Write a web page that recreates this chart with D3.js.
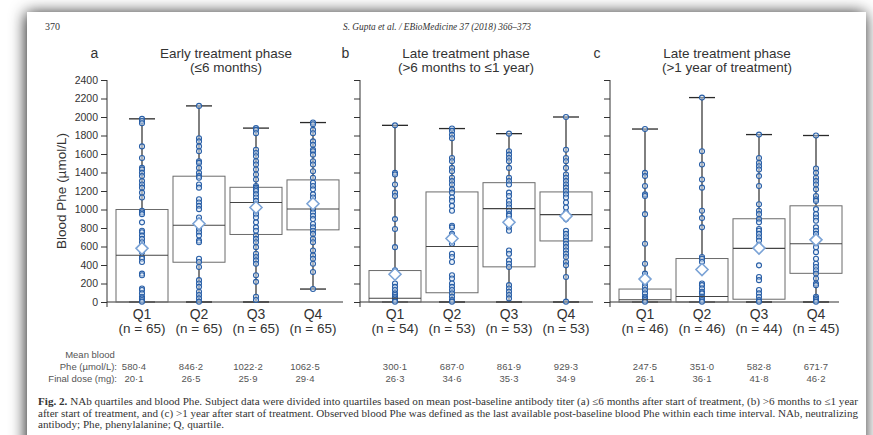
<!DOCTYPE html>
<html>
<head>
<meta charset="utf-8">
<script src="https://cdn.jsdelivr.net/npm/d3@7"></script>
<style>
  body { margin: 0; background: #fff; }
  svg { display: block; }
</style>
</head>
<body>
<svg width="873" height="435"></svg>
<script>
// категории и подписи
const quartiles = ["Q1", "Q2", "Q3", "Q4"];
const yTicks = d3.range(0, 2401, 200);
const panelLetters = ["a", "b", "c"];
const panelTitles = [
  ["Early treatment phase", "(≤6 months)"],
  ["Late treatment phase", "(>6 months to ≤1 year)"],
  ["Late treatment phase", "(>1 year of treatment)"]
];
const nCounts = [[65, 65, 65, 65], [54, 53, 53, 53], [46, 46, 44, 45]];
const meanPhe = [[580.4, 846.2, 1022.2, 1062.5], [300.1, 687.0, 861.9, 929.3], [247.5, 351.0, 582.8, 671.7]];
const finalDose = [[20.1, 26.5, 25.9, 29.4], [26.3, 34.6, 35.3, 34.9], [26.1, 36.1, 41.8, 46.2]];

// ящики: [min, q1, медиана, q3, max]
const boxA = [[0, 0, 505, 1000, 1980], [0, 430, 830, 1360, 2120], [0, 730, 1075, 1240, 1880], [140, 780, 1005, 1320, 1940]];
const boxB = [[0, 0, 40, 340, 1910], [0, 100, 600, 1190, 1875], [0, 380, 1010, 1290, 1820], [0, 660, 945, 1190, 2000]];
const boxC = [[0, 0, 25, 140, 1870], [0, 0, 60, 470, 2210], [0, 30, 580, 900, 1810], [0, 310, 630, 1040, 1800]];

const pointsA = [
  [1980, 1957, 1932, 1682, 1557, 1450, 1432, 1396, 1361, 1307, 1271, 1236, 1182, 1129, 986, 968, 950, 861, 771, 754, 718, 682, 646, 557, 539, 486, 468, 432, 307, 289, 146, 129, 93, 57, 39, 21, 4],
  [2120, 1771, 1736, 1682, 1629, 1521, 1504, 1450, 1396, 1361, 1343, 1271, 1236, 1111, 1075, 1039, 1004, 914, 879, 843, 825, 789, 754, 718, 664, 646, 468, 432, 379, 236, 200, 164, 111, 75, 39, 4],
  [1880, 1861, 1825, 1646, 1611, 1575, 1521, 1486, 1432, 1379, 1325, 1254, 1236, 1218, 1200, 1164, 1129, 1093, 1057, 1021, 986, 950, 914, 861, 807, 771, 718, 682, 646, 593, 521, 486, 450, 414, 289, 218, 57, 21],
  [1940, 1921, 1861, 1825, 1736, 1700, 1646, 1629, 1593, 1521, 1486, 1414, 1343, 1289, 1254, 1218, 1164, 1129, 1075, 1039, 1004, 968, 932, 896, 843, 807, 771, 736, 682, 646, 557, 504, 468, 414, 325, 140]
];
const pointsB = [
  [1910, 1396, 1379, 1271, 1182, 1146, 896, 789, 593, 343, 325, 307, 289, 200, 164, 129, 93, 75, 57, 39, 21, 4],
  [1875, 1850, 1807, 1771, 1557, 1521, 1450, 1414, 1343, 1307, 1271, 1218, 1182, 1129, 1093, 1039, 986, 825, 807, 736, 682, 629, 521, 486, 432, 289, 254, 200, 164, 129, 93, 57, 21, 4],
  [1820, 1629, 1593, 1557, 1521, 1450, 1343, 1307, 1271, 1182, 1146, 1093, 1057, 1021, 986, 950, 932, 896, 843, 807, 771, 557, 521, 450, 414, 379, 182, 146, 111, 75, 39],
  [2000, 1646, 1557, 1521, 1450, 1379, 1343, 1307, 1271, 1236, 1200, 1164, 1129, 1075, 1021, 968, 932, 914, 896, 771, 736, 700, 664, 629, 593, 557, 521, 486, 432, 396, 271, 4]
];
const pointsC = [
  [1870, 1396, 1361, 1254, 1164, 1146, 950, 629, 414, 307, 271, 236, 200, 164, 129, 93, 57, 39, 21, 4],
  [2210, 1629, 1486, 1325, 1236, 986, 907, 807, 486, 468, 432, 200, 182, 146, 111, 93, 57, 39, 21, 4],
  [1810, 1557, 1504, 1468, 1432, 1361, 1254, 1057, 986, 950, 896, 861, 789, 771, 736, 700, 664, 611, 575, 396, 271, 236, 129, 93, 57, 21, 4],
  [1800, 1443, 1396, 1343, 1307, 1271, 1218, 1146, 1111, 1093, 1004, 950, 914, 879, 807, 771, 736, 646, 593, 539, 468, 414, 379, 343, 307, 254, 200, 182, 57, 39, 21, 4]
];

const boxes = [boxA, boxB, boxC];
const points = [pointsA, pointsB, pointsC];

const captionLines = [
  "NAb quartiles and blood Phe. Subject data were divided into quartiles based on mean post-baseline antibody titer (a) ≤6 months after start of treatment, (b) >6 months to ≤1 year",
  "after start of treatment, and (c) >1 year after start of treatment. Observed blood Phe was defined as the last available post-baseline blood Phe within each time interval. NAb, neutralizing",
  "antibody; Phe, phenylalanine; Q, quartile."
];

const sans = "'Liberation Sans', Arial, sans-serif";
const serif = "'Liberation Serif', 'DejaVu Serif', serif";
const fmt = v => d3.format(".1f")(v).replace(".", "·");

const svg = d3.select("svg");

// лист страницы с тенью
const filter = svg.append("defs").append("filter").attr("id", "shadow")
  .attr("x", -0.1).attr("y", -0.1).attr("width", 1.2).attr("height", 1.3);
filter.append("feDropShadow").attr("dx", -1).attr("dy", 1).attr("stdDeviation", 8)
  .attr("flood-color", "#000").attr("flood-opacity", 0.9);
svg.append("rect").attr("x", 27).attr("y", 12).attr("width", 839).attr("height", 470)
  .attr("fill", "#fff").attr("filter", "url(#shadow)");

// шапка
svg.append("text").attr("x", 45).attr("y", 30).attr("font-family", serif).attr("font-size", 10)
  .attr("fill", "#333").text("370");
svg.append("text").attr("x", 343).attr("y", 30).attr("font-family", serif).attr("font-size", 10)
  .attr("font-style", "italic").attr("fill", "#333").attr("textLength", 188).attr("lengthAdjust", "spacingAndGlyphs")
  .text("S. Gupta et al. / EBioMedicine 37 (2018) 366–373");

// шкала Y общая
const y = d3.scaleLinear().domain([0, 2400]).range([302, 80]);

const axisX = [107, 360, 610];
const axisEnd = [343, 593, 839];
const titleX = [226, 466, 727];
const letterX = [94.5, 345.5, 597];
const tableShift = [-8, 0, 0];

// подпись оси Y
svg.append("text").attr("transform", "translate(66," + y(1200) + ") rotate(-90)")
  .attr("text-anchor", "middle").attr("font-family", sans).attr("font-size", 13.5).attr("fill", "#333")
  .text("Blood Phe (µmol/L)");

panelLetters.forEach(function(letter, p) {
  const ax = axisX[p];
  const x = d3.scalePoint().domain(quartiles).range([ax + 35, ax + 206]);

  svg.append("text").attr("x", letterX[p]).attr("y", 58).attr("text-anchor", "middle")
    .attr("font-family", sans).attr("font-size", 14).attr("fill", "#333").text(letter);
  panelTitles[p].forEach(function(t, i) {
    svg.append("text").attr("x", titleX[p]).attr("y", 58 + i * 14).attr("text-anchor", "middle")
      .attr("font-family", sans).attr("font-size", 13.5).attr("fill", "#333").text(t);
  });

  // ось Y
  const yAx = svg.append("g").attr("transform", "translate(" + ax + ",0)")
    .call(d3.axisLeft(y).tickValues(yTicks).tickSize(6).tickPadding(3)
      .tickFormat(p === 0 ? d3.format("d") : ""));
  yAx.select(".domain").remove();
  yAx.selectAll(".tick line").attr("stroke", "#333");
  yAx.selectAll(".tick text").attr("font-family", sans).attr("font-size", 10.5).attr("fill", "#333");
  svg.append("line").attr("x1", ax).attr("x2", ax).attr("y1", y(2400)).attr("y2", y(0) + 5)
    .attr("stroke", "#333");
  // базовая линия
  svg.append("line").attr("x1", ax).attr("x2", axisEnd[p]).attr("y1", y(0)).attr("y2", y(0))
    .attr("stroke", "#333");

  const g = svg.append("g");
  const bw = 26, cw = 13;

  quartiles.forEach(function(q, i) {
    const b = boxes[p][i];
    const cx = x(q);
    // усы
    g.append("line").attr("x1", cx).attr("x2", cx).attr("y1", y(b[4])).attr("y2", y(b[3]))
      .attr("stroke", "#2a2a2a").attr("stroke-width", 1.2);
    g.append("line").attr("x1", cx).attr("x2", cx).attr("y1", y(b[1])).attr("y2", y(b[0]))
      .attr("stroke", "#2a2a2a").attr("stroke-width", 1.2);
    [b[0], b[4]].forEach(function(v) {
      g.append("line").attr("x1", cx - cw).attr("x2", cx + cw).attr("y1", y(v)).attr("y2", y(v))
        .attr("stroke", "#2a2a2a").attr("stroke-width", 1.3);
    });
    // ящик
    g.append("rect").attr("x", cx - bw).attr("width", bw * 2)
      .attr("y", y(b[3])).attr("height", y(b[1]) - y(b[3]))
      .attr("fill", "none").attr("stroke", "#6b6b6b").attr("stroke-width", 1);
  });

  // точки
  quartiles.forEach(function(q, i) {
    g.selectAll(null).data(points[p][i]).enter().append("circle")
      .attr("cx", x(q)).attr("cy", d => y(d)).attr("r", 2.5)
      .attr("fill", "rgba(220,232,246,0.5)").attr("stroke", "#285ea6").attr("stroke-width", 1.1);
  });

  // медианы
  quartiles.forEach(function(q, i) {
    const b = boxes[p][i];
    g.append("line").attr("x1", x(q) - bw).attr("x2", x(q) + bw).attr("y1", y(b[2])).attr("y2", y(b[2]))
      .attr("stroke", "#444").attr("stroke-width", 1.1);
  });

  // средние (ромбы)
  g.selectAll(null).data(meanPhe[p]).enter().append("path")
    .attr("transform", (d, i) => "translate(" + x(quartiles[i]) + "," + y(d) + ")")
    .attr("d", "M0,-6L6,0L0,6L-6,0Z")
    .attr("fill", "#fff").attr("stroke", "#7ba3d6").attr("stroke-width", 1.6);

  // подписи квартилей и таблица
  quartiles.forEach(function(q, i) {
    svg.append("text").attr("x", x(q)).attr("y", 319).attr("text-anchor", "middle")
      .attr("font-family", sans).attr("font-size", 14).attr("fill", "#333").text(q);
    svg.append("text").attr("x", x(q)).attr("y", 333).attr("text-anchor", "middle")
      .attr("font-family", sans).attr("font-size", 13.5).attr("fill", "#333").text("(n = " + nCounts[p][i] + ")");
    svg.append("text").attr("x", x(q) + tableShift[p]).attr("y", 370).attr("text-anchor", "middle")
      .attr("font-family", sans).attr("font-size", 9.5).attr("fill", "#555").text(fmt(meanPhe[p][i]));
    svg.append("text").attr("x", x(q) + tableShift[p]).attr("y", 382).attr("text-anchor", "middle")
      .attr("font-family", sans).attr("font-size", 9.5).attr("fill", "#555").text(fmt(finalDose[p][i]));
  });
});

// заголовки строк таблицы
svg.append("text").attr("x", 90).attr("y", 358).attr("text-anchor", "middle")
  .attr("font-family", sans).attr("font-size", 9.5).attr("fill", "#555").text("Mean blood");
svg.append("text").attr("x", 117).attr("y", 370).attr("text-anchor", "end")
  .attr("font-family", sans).attr("font-size", 9.5).attr("fill", "#555").text("Phe (µmol/L):");
svg.append("text").attr("x", 117).attr("y", 382).attr("text-anchor", "end")
  .attr("font-family", sans).attr("font-size", 9.5).attr("fill", "#555").text("Final dose (mg):");

// подпись рисунка
const capLen = [820, 820, 186];
captionLines.forEach(function(line, i) {
  const t = svg.append("text").attr("x", 38).attr("y", 405 + i * 11.5)
    .attr("font-family", serif).attr("font-size", 10).attr("fill", "#333")
    .attr("textLength", capLen[i]).attr("lengthAdjust", "spacingAndGlyphs");
  if (i === 0) {
    t.append("tspan").attr("font-weight", "bold").text("Fig. 2. ");
  }
  t.append("tspan").text(line);
});
</script>
</body>
</html>
